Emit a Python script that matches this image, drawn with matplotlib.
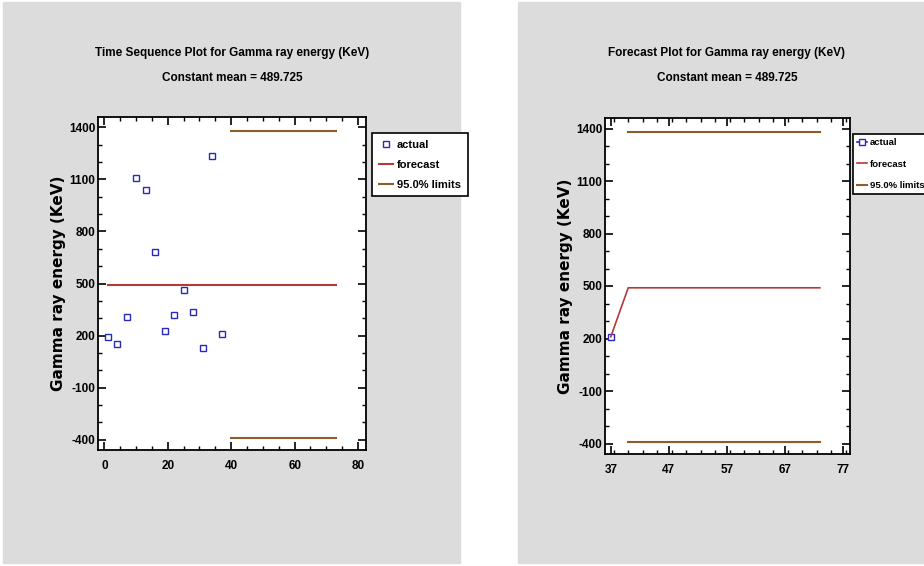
import matplotlib
matplotlib.use("Agg")
import matplotlib.pyplot as plt
from matplotlib.patches import Rectangle
from matplotlib.ticker import MultipleLocator, FixedLocator

plt.rcParams["font.family"] = ["Liberation Sans", "DejaVu Sans"]
plt.rcParams["font.weight"] = "bold"
plt.rcParams["axes.unicode_minus"] = False

# data
t_actual = [1, 4, 7, 10, 13, 16, 19, 22, 25, 28, 31, 34, 37]
actual = [193, 152, 307, 1107, 1040, 682, 226, 318, 462, 333, 129, 1236, 210]
t_forecast = [40, 43, 46, 49, 52, 55, 58, 61, 64, 67, 70, 73]
mean_value = 489.725
upper_limit = 1378
lower_limit = -392
y_ticks = [-400, -100, 200, 500, 800, 1100, 1400]
x_ticks_left = [0, 20, 40, 60, 80]
x_ticks_right = [37, 47, 57, 67, 77]

blue = "#2a2ab8"
red = "#b5393a"
brown = "#8e5c2c"
grey = "#dcdcdc"

fig = plt.figure(figsize=(9.24, 5.66), dpi=100)
W, H = 924, 566


def fx(px):
    return px / W


def fy(py):
    return 1 - py / H


# grey panels behind the axes
for x0, x1 in [(3, 460), (518, 924)]:
    fig.add_artist(Rectangle((fx(x0), fy(563)), fx(x1) - fx(x0), fy(2) - fy(563),
                             transform=fig.transFigure, color=grey, zorder=-5))


def style_axes(ax, xticks, xlim, xminor):
    ax.set_zorder(1)
    ax.set_facecolor("white")
    ax.set_xlim(*xlim)
    ax.set_ylim(-460, 1460)
    ax.xaxis.set_major_locator(FixedLocator(xticks))
    ax.xaxis.set_minor_locator(MultipleLocator(xminor))
    ax.yaxis.set_major_locator(FixedLocator(y_ticks))
    ax.yaxis.set_minor_locator(MultipleLocator(100))
    ax.tick_params(which="both", direction="in", top=True, right=True,
                   colors="black", labelsize=8.5)
    ax.tick_params(which="major", length=6, width=1.2)
    ax.tick_params(which="minor", length=3, width=1)
    ax.tick_params(axis="x", pad=7)
    ax.tick_params(axis="y", pad=2)
    for s in ax.spines.values():
        s.set_linewidth(1.3)
        s.set_color("black")
    for lab in ax.get_xticklabels() + ax.get_yticklabels():
        lab.set_fontweight("bold")
    ax.set_ylabel("Gamma ray energy (KeV)", family=["DejaVu Sans"],
                  fontsize=11, fontweight="bold", labelpad=2)


def add_legend(ax, x, y, size, hl, pad, spacing):
    leg = ax.legend(loc="upper left", bbox_to_anchor=(fx(x), fy(y)),
                    bbox_transform=fig.transFigure, fontsize=size, frameon=True,
                    fancybox=False, framealpha=1, edgecolor="black",
                    handlelength=hl, handletextpad=0.35, borderpad=pad,
                    labelspacing=spacing, borderaxespad=0)
    leg.get_frame().set_linewidth(1.2)
    leg.set_zorder(5)
    return leg


# left: time sequence plot
ax1 = fig.add_axes([fx(98), fy(450), fx(366) - fx(98), fy(117) - fy(450)])
style_axes(ax1, x_ticks_left, (-2, 82.5), 5)
ax1.plot(t_actual, actual, linestyle="none", marker="s", ms=4, mfc="white",
         mec=blue, mew=1, label="actual")
ax1.plot(t_actual + t_forecast, [mean_value] * (len(t_actual) + len(t_forecast)),
         color=red, lw=1.5, label="forecast")
ax1.plot(t_forecast, [upper_limit] * len(t_forecast), color=brown, lw=1.5,
         label="95.0% limits")
ax1.plot(t_forecast, [lower_limit] * len(t_forecast), color=brown, lw=1.5)
add_legend(ax1, 372, 133, 8, 1.3, 0.6, 0.9)

# right: forecast plot
ax2 = fig.add_axes([fx(605), fy(454), fx(850) - fx(605), fy(118) - fy(454)])
style_axes(ax2, x_ticks_right, (36, 78.2), 2.5)
ax2.plot([t_actual[-1]], [actual[-1]], color=blue, marker="s", ms=4,
         mfc="white", mec=blue, mew=1, lw=1.2, label="actual")
ax2.plot([t_actual[-1]] + t_forecast, [actual[-1]] + [mean_value] * len(t_forecast),
         color=red, lw=1.2, label="forecast")
ax2.plot(t_forecast, [upper_limit] * len(t_forecast), color=brown, lw=1.5,
         label="95.0% limits")
ax2.plot(t_forecast, [lower_limit] * len(t_forecast), color=brown, lw=1.5)
add_legend(ax2, 853, 134, 6.8, 1.0, 0.45, 1.3)

# titles
for cx, title in [(232, "Time Sequence Plot for Gamma ray energy (KeV)"),
                  (727, "Forecast Plot for Gamma ray energy (KeV)")]:
    fig.text(fx(cx), fy(53), title, ha="center", va="center", fontsize=8.5,
             fontweight="bold")
    fig.text(fx(cx), fy(78), "Constant mean = 489.725", ha="center",
             va="center", fontsize=8.5, fontweight="bold")

fig.savefig("out.png", dpi=100, facecolor="white")
